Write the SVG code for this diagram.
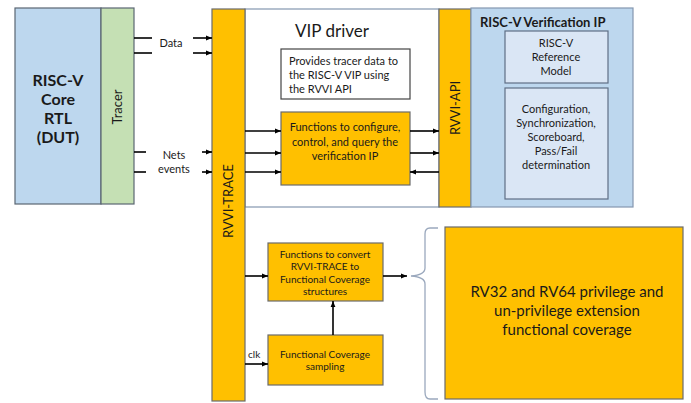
<svg xmlns="http://www.w3.org/2000/svg" width="691" height="403" viewBox="0 0 691 403">
  <defs>
    <marker id="arr" viewBox="0 0 10 10" refX="10" refY="5" markerWidth="6" markerHeight="6" markerUnits="userSpaceOnUse" orient="auto">
      <path d="M0,1 L10,5 L0,9 z" fill="#000"/>
    </marker>
    <style>
      text { font-family: Lato, "Open Sans", "Liberation Sans", sans-serif; fill: #1a1a1a; }
      .dut { fill: #bdd7ee; stroke: #5a6672; stroke-width: 1.2; }
      .tracer { fill: #c5e0b4; stroke: #5a6672; stroke-width: 1.2; }
      .org { fill: #ffc000; stroke: #6b6b6b; stroke-width: 1.2; }
      .white { fill: #fff; stroke: #8497b0; stroke-width: 1.2; }
      .vip { fill: #bdd7ee; stroke: #8497b0; stroke-width: 1.2; }
      .inner { fill: #dae6f5; stroke: #5f6f85; stroke-width: 1.2; }
      .note { fill: #fff; stroke: #444; stroke-width: 1.2; }
      .ln { stroke: #000; stroke-width: 1.6; fill: none; }
      .c { text-anchor: middle; }
      .s11 { font-size: 11px; }
      .big { font-size: 16px; font-weight: bold; }
    </style>
  </defs>

  <!-- DUT core -->
  <g id="dut">
    <rect class="dut" x="15" y="8" width="86" height="196"/>
    <text class="c big" x="58" y="86">RISC-V</text>
    <text class="c big" x="58" y="105">Core</text>
    <text class="c big" x="58" y="124">RTL</text>
    <text class="c big" x="58" y="143">(DUT)</text>
  </g>

  <!-- Tracer -->
  <g id="tracer">
    <rect class="tracer" x="101" y="8" width="33" height="196"/>
    <text class="c" transform="translate(122,107) rotate(-90)" font-size="13">Tracer</text>
  </g>

  <!-- VIP driver container -->
  <g id="vip-driver">
    <rect class="white" x="245" y="9" width="194" height="198"/>
    <text class="c" x="332" y="37" font-size="17">VIP driver</text>
  </g>

  <!-- RVVI-TRACE bar -->
  <g id="rvvi-trace">
    <rect class="org" x="212" y="9" width="33" height="392"/>
    <text class="c" transform="translate(233,201) rotate(-90)" font-size="13">RVVI-TRACE</text>
  </g>

  <!-- RVVI-API bar -->
  <g id="rvvi-api">
    <rect class="org" x="439" y="9" width="32" height="198"/>
    <text class="c" transform="translate(460,108) rotate(-90)" font-size="13">RVVI-API</text>
  </g>

  <!-- Verification IP -->
  <g id="verification-ip">
    <rect class="vip" x="471" y="8" width="162" height="199"/>
    <text x="480" y="27" font-size="13" font-weight="bold">RISC-V Verification IP</text>
  </g>
  <g id="reference-model">
    <rect class="inner" x="505" y="31" width="103" height="52"/>
    <text class="c s11" x="556" y="47">RISC-V</text>
    <text class="c s11" x="556" y="61">Reference</text>
    <text class="c s11" x="556" y="75">Model</text>
  </g>
  <g id="checker">
    <rect class="inner" x="505" y="88" width="103" height="111"/>
    <text class="c s11" x="556" y="113">Configuration,</text>
    <text class="c s11" x="556" y="127">Synchronization,</text>
    <text class="c s11" x="556" y="141">Scoreboard,</text>
    <text class="c s11" x="556" y="155">Pass/Fail</text>
    <text class="c s11" x="556" y="169">determination</text>
  </g>

  <!-- Note box -->
  <g id="note">
    <rect class="note" x="281" y="49" width="129" height="50"/>
    <text class="s11" x="289" y="65">Provides tracer data to</text>
    <text class="s11" x="289" y="79">the RISC-V VIP using</text>
    <text class="s11" x="289" y="93">the RVVI API</text>
  </g>

  <!-- Configure / control functions -->
  <g id="api-functions">
    <rect class="org" x="281" y="112" width="129" height="73"/>
    <text class="c s11" x="345" y="131">Functions to configure,</text>
    <text class="c s11" x="345" y="146">control, and query the</text>
    <text class="c s11" x="345" y="160">verification IP</text>
  </g>

  <!-- Coverage conversion -->
  <g id="convert">
    <rect class="org" x="268" y="243" width="115" height="58"/>
    <text class="c" x="325" y="258" font-size="10">Functions to convert</text>
    <text class="c" x="325" y="270" font-size="10">RVVI-TRACE to</text>
    <text class="c" x="325" y="283" font-size="10">Functional Coverage</text>
    <text class="c" x="325" y="295" font-size="10">structures</text>
  </g>

  <!-- Coverage sampling -->
  <g id="sampling">
    <rect class="org" x="268" y="335" width="115" height="50"/>
    <text class="c" x="325" y="358" font-size="10">Functional Coverage</text>
    <text class="c" x="325" y="370" font-size="10">sampling</text>
  </g>

  <!-- Coverage model -->
  <g id="coverage">
    <rect class="org" x="445" y="227" width="238" height="172"/>
    <text class="c" x="567" y="297" font-size="15">RV32 and RV64 privilege and</text>
    <text class="c" x="567" y="316" font-size="15">un-privilege extension</text>
    <text class="c" x="567" y="335" font-size="15">functional coverage</text>
  </g>

  <!-- Connectors -->
  <g id="connectors">
    <!-- tracer outputs -->
    <line class="ln" x1="134" y1="38" x2="152" y2="38"/>
    <line class="ln" x1="193" y1="38" x2="212" y2="38" marker-end="url(#arr)"/>
    <line class="ln" x1="134" y1="53" x2="152" y2="53"/>
    <line class="ln" x1="193" y1="53" x2="212" y2="53" marker-end="url(#arr)"/>
    <text class="c s11" x="171" y="47">Data</text>
    <line class="ln" x1="134" y1="152" x2="146" y2="152"/>
    <line class="ln" x1="202" y1="152" x2="212" y2="152" marker-end="url(#arr)"/>
    <line class="ln" x1="134" y1="172" x2="146" y2="172"/>
    <line class="ln" x1="202" y1="172" x2="212" y2="172" marker-end="url(#arr)"/>
    <text class="c s11" x="174" y="159">Nets</text>
    <text class="c s11" x="174" y="173">events</text>

    <!-- trace to functions -->
    <line class="ln" x1="245" y1="131" x2="281" y2="131" marker-end="url(#arr)"/>
    <line class="ln" x1="245" y1="153" x2="281" y2="153" marker-end="url(#arr)"/>
    <line class="ln" x1="245" y1="172" x2="281" y2="172" marker-end="url(#arr)"/>

    <!-- functions to API -->
    <line class="ln" x1="410" y1="131" x2="439" y2="131" marker-end="url(#arr)"/>
    <line class="ln" x1="410" y1="153" x2="439" y2="153" marker-end="url(#arr)"/>
    <line class="ln" x1="439" y1="172" x2="410" y2="172" marker-end="url(#arr)"/>

    <!-- coverage path -->
    <line class="ln" x1="245" y1="276" x2="268" y2="276" marker-end="url(#arr)"/>
    <line class="ln" x1="383" y1="276" x2="407" y2="276" marker-end="url(#arr)"/>
    <line class="ln" x1="333" y1="335" x2="333" y2="301" marker-end="url(#arr)"/>
    <line class="ln" x1="245" y1="364" x2="268" y2="364" marker-end="url(#arr)"/>
    <text x="248" y="358" font-size="10">clk</text>

    <!-- brace -->
    <path d="M438,228 L430,228 Q425,228 425,234 L425,268 Q425,275 411,276 Q425,277 425,284 L425,392 Q425,399 430,399 L438,399" fill="none" stroke="#9aa8bd" stroke-width="1.3"/>
  </g>
</svg>
